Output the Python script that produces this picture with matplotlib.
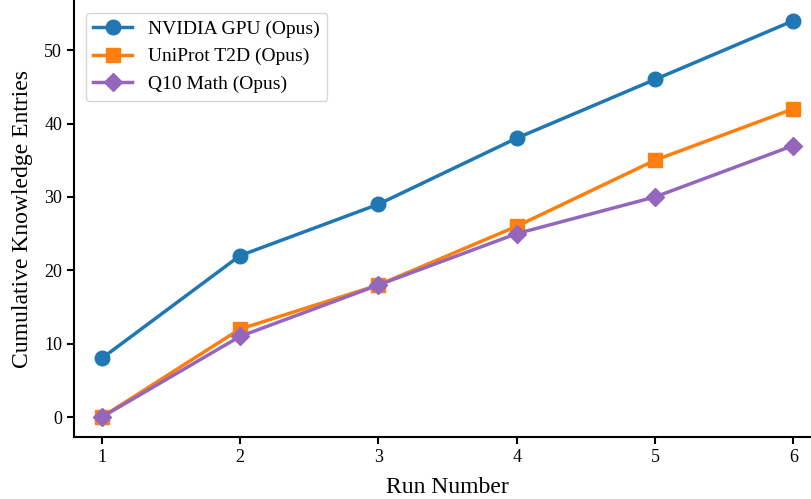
import matplotlib
matplotlib.use("Agg")
from matplotlib import pyplot as plt

plt.rcParams['font.family'] = ['Liberation Serif', 'DejaVu Serif']

runs = [1, 2, 3, 4, 5, 6]
nvidia = [8, 22, 29, 38, 46, 54]
uniprot = [0, 12, 18, 26, 35, 42]
q10 = [0, 11, 18, 25, 30, 37]

fig = plt.figure(figsize=(8.12, 4.99), dpi=100)
ax = fig.add_axes([0.0911, 0.1242, 0.92, 0.874])

ax.plot(runs, nvidia, color="#1f77b4", linewidth=2.5, marker="o", markersize=10.5, label="NVIDIA GPU (Opus)")
ax.plot(runs, uniprot, color="#ff7f0e", linewidth=2.5, marker="s", markersize=9.5, label="UniProt T2D (Opus)")
ax.plot(runs, q10, color="#9467bd", linewidth=2.5, marker="D", markersize=9.5, label="Q10 Math (Opus)")

ax.set_xlim(0.8, 6.2)
ax.set_ylim(-2.7, 56.7)
ax.set_xticks(runs)
ax.set_yticks([0, 10, 20, 30, 40, 50])
ax.tick_params(labelsize=13, width=1.5, length=5)
ax.set_xlabel("Run Number", fontsize=17, labelpad=8)
ax.set_ylabel("Cumulative Knowledge Entries", fontsize=17, labelpad=8)
ax.spines['top'].set_visible(False)
ax.spines['right'].set_visible(False)
ax.spines['left'].set_linewidth(1.5)
ax.spines['bottom'].set_linewidth(1.5)
ax.legend(loc="upper left", fontsize=14, borderaxespad=0.6)

fig.savefig("out.png", dpi=100)
